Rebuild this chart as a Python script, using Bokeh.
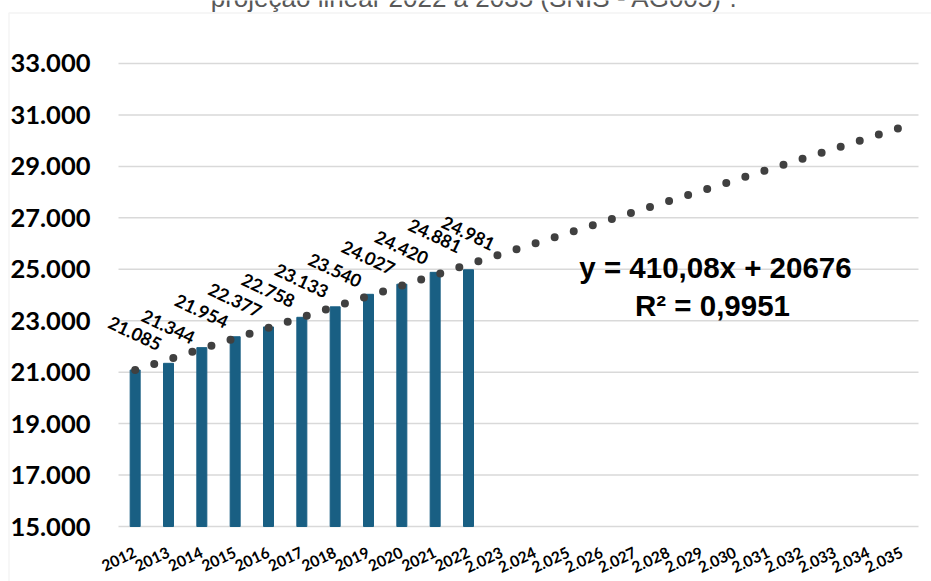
from bokeh.plotting import figure
from bokeh.models import Range1d, FixedTicker, Label, LabelSet, BoxAnnotation, ColumnDataSource
from bokeh.core.properties import value
from bokeh.embed import file_html
from bokeh.resources import INLINE

# ---------------- data ----------------
years = ["2012", "2013", "2014", "2015", "2016", "2017", "2018", "2019", "2020", "2021", "2022"]
projection_years = ["2.023", "2.024", "2.025", "2.026", "2.027", "2.028", "2.029",
                    "2.030", "2.031", "2.032", "2.033", "2.034", "2.035"]
categories = years + projection_years
population = [21085, 21344, 21954, 22377, 22758, 23133, 23540, 24027, 24420, 24881, 24981]
population_labels = ["21.085", "21.344", "21.954", "22.377", "22.758", "23.133",
                     "23.540", "24.027", "24.420", "24.881", "24.981"]
trend_slope = 410.08
trend_intercept = 20676
y_ticks = [15000, 17000, 19000, 21000, 23000, 25000, 27000, 29000, 31000, 33000]
y_tick_labels = ["15.000", "17.000", "19.000", "21.000", "23.000",
                 "25.000", "27.000", "29.000", "31.000", "33.000"]
title_text = "projeção linear 2022 à 2035 (SNIS - AG005)”."
equation_text = "y = 410,08x + 20676"
r2_text = "R² = 0,9951"

# positions of categories on the x scale
positions = list(range(len(categories)))
bar_positions = positions[:len(years)]

# ---------------- figure (frame fills the whole canvas) ----------------
y_base = 15000
p = figure(x_range=Range1d(-4.04, 23.89), y_range=Range1d(12862, 35449),
           width=931, height=581, output_backend="svg", toolbar_location=None,
           min_border_left=0, min_border_right=0, min_border_top=0, min_border_bottom=0)
p.outline_line_color = None
p.background_fill_color = "white"
p.border_fill_color = "white"
p.xgrid.grid_line_color = None
p.ygrid.grid_line_color = None

# horizontal gridlines over the category extent
p.segment(x0=-0.5, x1=len(categories) - 0.5, y0=y_ticks, y1=y_ticks,
          line_color="#d9d9d9", line_width=1.5)

# y axis (labels drawn inward)
p.yaxis.ticker = FixedTicker(ticks=y_ticks)
p.yaxis.major_label_overrides = dict(zip(y_ticks, y_tick_labels))
p.yaxis.axis_line_color = None
p.yaxis.major_tick_line_color = None
p.yaxis.minor_tick_line_color = None
p.yaxis.major_tick_out = 0
p.yaxis.minor_tick_out = 0
p.yaxis.major_label_standoff = -90
p.yaxis.major_label_text_font = "Lato"
p.yaxis.major_label_text_font_style = "bold"
p.yaxis.major_label_text_font_size = "25.5px"
p.yaxis.major_label_text_color = "#000000"

# x axis (labels drawn inward)
p.xaxis.ticker = FixedTicker(ticks=positions)
p.xaxis.major_label_overrides = dict(zip(positions, categories))
p.xaxis.axis_line_color = None
p.xaxis.major_tick_line_color = None
p.xaxis.minor_tick_line_color = None
p.xaxis.major_tick_out = 0
p.xaxis.minor_tick_out = 0
p.xaxis.major_label_orientation = 0.436
p.xaxis.major_label_standoff = -30
p.xaxis.major_label_text_font = "Lato"
p.xaxis.major_label_text_font_style = "bold"
p.xaxis.major_label_text_font_size = "15.5px"
p.xaxis.major_label_text_color = "#000000"

# bars
p.vbar(x=bar_positions, top=population, bottom=y_base, width=0.3, color="#195f83")

# linear trend line (from displayed equation)
trend_x = [positions[0], positions[-1]]
trend_y = [trend_intercept + trend_slope * 1, trend_intercept + trend_slope * len(categories)]
p.line(x=trend_x, y=trend_y, line_color="#404040", line_width=8,
       line_dash="0 20", line_cap="round")

# data labels
src = ColumnDataSource(dict(x=bar_positions, y=population, t=population_labels))
p.add_layout(LabelSet(x="x", y="y", text="t", source=src, angle=-0.44,
                      text_align="center", text_baseline="middle", y_offset=37,
                      text_font=value("Lato"), text_font_style="bold",
                      text_font_size="18px", text_color="#000000"))

# equation
p.add_layout(Label(x=715, y=314, x_units="screen", y_units="screen", text=equation_text,
                   text_align="center", text_baseline="alphabetic",
                   text_font="Liberation Sans", text_font_style="bold",
                   text_font_size="29.5px", text_color="#000000"))
p.add_layout(Label(x=712, y=276, x_units="screen", y_units="screen", text=r2_text,
                   text_align="center", text_baseline="alphabetic",
                   text_font="Liberation Sans", text_font_style="bold",
                   text_font_size="29.5px", text_color="#000000"))

# title (cut off at top of chart)
p.add_layout(Label(x=474, y=583.5, x_units="screen", y_units="screen", text=title_text,
                   text_align="center", text_baseline="alphabetic",
                   text_font="Liberation Sans", text_font_size="26px",
                   text_color="#595959"))

# chart border (top and left edges visible)
p.add_layout(BoxAnnotation(left=8.5, right=3000, top=568.5, bottom=-3000,
                           left_units="screen", right_units="screen",
                           top_units="screen", bottom_units="screen",
                           fill_alpha=0, line_color="#d9d9d9", line_width=1.5))

open("out.html", "w").write(file_html(p, INLINE))
